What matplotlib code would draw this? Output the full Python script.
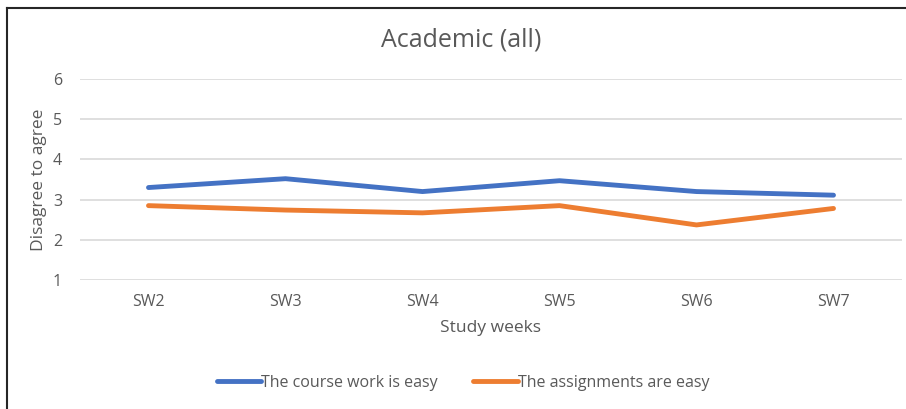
import matplotlib
matplotlib.use("Agg")
import matplotlib.pyplot as plt
from matplotlib.lines import Line2D

plt.rcParams['font.family'] = ['Open Sans', 'DejaVu Sans']

weeks = ["SW2", "SW3", "SW4", "SW5", "SW6", "SW7"]
course_work_easy = [3.30, 3.52, 3.20, 3.47, 3.20, 3.11]
assignments_easy = [2.85, 2.74, 2.67, 2.85, 2.37, 2.78]
series_names = ["The course work is easy", "The assignments are easy"]
yticks = [1, 2, 3, 4, 5, 6]

W, H = 906, 409
fig = plt.figure(figsize=(W/100, H/100), dpi=100)
ax = fig.add_axes([80/W, 1-280/H, (902-80)/W, (280-79)/H])

x = list(range(len(weeks)))
text_col = '#595959'
ax.plot(x, course_work_easy, color='#4472C4', lw=3.5, solid_capstyle='round', label=series_names[0])
ax.plot(x, assignments_easy, color='#ED7D31', lw=3.5, solid_capstyle='round', label=series_names[1])

ax.set_xlim(-0.5, len(weeks)-0.5)
ax.set_ylim(1, 6)
ax.set_yticks(yticks)
ax.set_xticks(x)
ax.set_xticklabels(weeks)
ax.yaxis.grid(True, color='#D9D9D9', lw=1.2)
ax.set_axisbelow(True)
for s in ax.spines.values():
    s.set_visible(False)
ax.tick_params(axis='both', length=0, labelsize=11.5, colors=text_col, pad=10)
ax.tick_params(axis='y', pad=13)
ax.set_xlabel("Study weeks", fontsize=12.5, color=text_col, labelpad=7)
ax.set_ylabel("Disagree to agree", fontsize=12.5, color=text_col, labelpad=4)

fig.text(461/W, 1-40/H, "Academic (all)", ha='center', va='center', fontsize=18, color=text_col)

leg = fig.legend(loc='center', bbox_to_anchor=(463/W, 1-383/H), ncol=2, frameon=False,
                 fontsize=11.5, handlelength=2.8, handletextpad=0.0, columnspacing=2.2)
for t in leg.get_texts():
    t.set_color(text_col)

# outer border (left and top)
fig.add_artist(Line2D([7/W, 7/W], [0, 1-8/H], transform=fig.transFigure, color='#262626', lw=1.5))
fig.add_artist(Line2D([7/W, 1], [1-8/H, 1-8/H], transform=fig.transFigure, color='#262626', lw=1.5))

fig.savefig("out.png", dpi=100)
